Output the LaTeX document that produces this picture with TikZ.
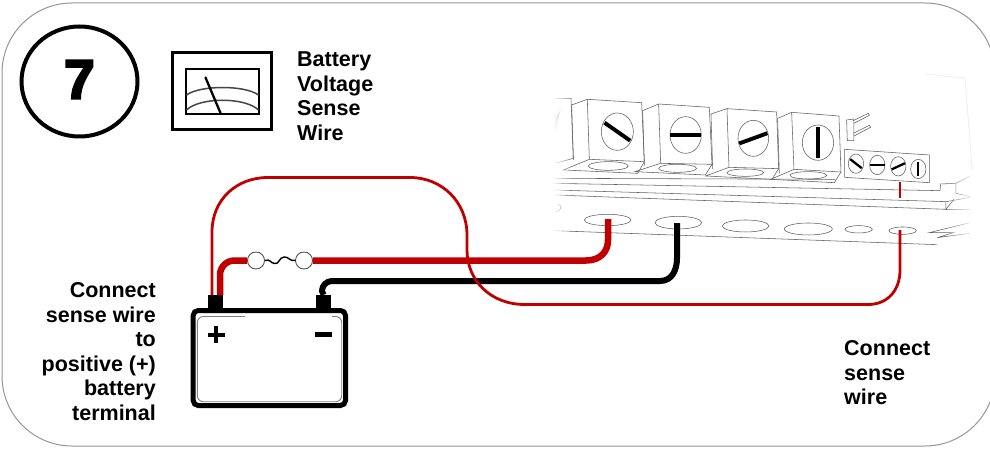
\documentclass[tikz,border=0pt]{standalone}
\usepackage{fontspec}
\setmainfont{Liberation Sans}
\newfontfamily\heavy[BoldFeatures={FakeBold=4}]{Liberation Sans}
\usetikzlibrary{calc,fadings,shapes.geometric}
\definecolor{wirered}{RGB}{192,0,0}
\definecolor{frame}{RGB}{150,150,150}
\definecolor{bline}{RGB}{70,70,70}
\definecolor{sk}{RGB}{95,95,95}
\tikzset{
  lbl/.style={font=\fontsize{21.5}{24.5}\selectfont\bfseries,inner sep=0pt},
  thinred/.style={draw=wirered,line width=2.8pt},
  thickred/.style={draw=wirered,line width=6.5pt},
  thickblack/.style={draw=black,line width=6pt},
  posts/.style={fill=black,draw=none,minimum width=15pt,minimum height=14pt,inner sep=0pt},
  fusecap/.style={circle,draw=bline,fill=white,line width=.8pt,minimum size=17pt,inner sep=0pt},
  sketch/.style={draw=sk,line width=.55pt}
}
\begin{document}
\begin{tikzpicture}[x=1pt,y=-1pt]
\useasboundingbox (0,0) rectangle (990,449);
\fill[white] (0,0) rectangle (990,449);
% frame
\draw[frame,line width=1pt,rounded corners=70pt] (2,3) rectangle (995,446);
% faint edge of the pasted board picture
\draw[black!7,line width=.8pt] (925,74) -- (965,78) -- (973,180);

% terminal strip sketch (coordinates in 3x zoom units)
\begin{scope}[shift={(500,70)},x=0.3333pt,y=-0.3333pt]
  % left partial block
  \draw[sketch] (165,85) -- (213,85) -- (220,265) -- (165,280);
  \fill[gray!55] (165,135) arc[start angle=90,end angle=20,x radius=20,y radius=40] -- (165,190) -- cycle;
  \foreach \ax/\ay/\bx/\by/\cx/\cy/\dx/\dy/\sx/\sy/\tx/\ty/\ex/\ey/\ang/\rxx/\ryy/\ox/\oy/\orx/\ory in {
    262/88/425/98/433/275/268/268/215/105/190/300/352/185/-35/48/56/325/288/60/13,
    476/102/628/112/636/283/482/280/428/122/405/305/557/195/0/47/55/533/295/57/12,
    681/116/830/126/836/296/687/292/633/132/617/318/760/205/20/46/54/736/308/55/11,
    875/127/1017/138/1023/306/882/298/833/145/812/328/954/218/90/47/53/925/316/55/11}{
    \draw[sketch,fill=white] (\ax,\ay) -- (\bx,\by) -- (\cx,\cy) -- (\dx,\dy) -- cycle;
    \draw[sketch] (\ax,\ay) -- (\sx,\sy) -- (\sx+5,\sy+165);
    \draw[sketch] (\dx,\dy) -- (\tx,\ty) -- (\cx-20,\ty+10) -- (\cx,\cy);
    \draw[sketch] (\ox,\oy) ellipse[x radius=\orx,y radius=\ory];
    \draw[sketch,fill=white] (\ex,\ey) ellipse[x radius=\rxx,y radius=\ryy];
    \draw[line width=3.9pt] ($(\ex,\ey)+({\ang*-1}:{\rxx-1})$) -- ($(\ex,\ey)+({180-\ang}:{\rxx-1})$);
  }
  % jumper
  \draw[sketch] (1040,150) -- (1062,147) -- (1062,212) -- (1042,212) -- cycle;
  \draw[sketch] (1060,152) -- (1105,130) -- (1108,136) -- (1062,160);
  \draw[sketch] (1060,190) -- (1108,166) -- (1112,172) -- (1062,198);
  % small terminal block
  \draw[sketch,fill=white] (1034,238) -- (1288,255) -- (1288,338) -- (1034,322) -- cycle;
  \foreach \ex/\ey/\ang in {1068/281/-38,1132/285/0,1195/289/25,1255/297/90}{
    \draw[sketch,fill=white] (\ex,\ey) ellipse[x radius=23,y radius=29];
    \draw[line width=2.3pt] ($(\ex,\ey)+({\ang*-1}:22)$) -- ($(\ex,\ey)+({180-\ang}:22)$);
  }
  % rails
  \draw[sketch] (160,325) -- (1005,328);
  \draw[sketch] (160,340) -- (1320,362) -- (1322,342) -- (1368,340) -- (1368,370) -- (1410,380);
  \draw[sketch] (160,360) -- (1340,395) -- (1410,382);
  \draw[sketch] (160,375) -- (1338,418) -- (1410,418);
  \draw[sketch] (1338,395) -- (1338,418) -- (1362,388);
  \draw[sketch] (1368,340) -- (1410,318);
  % lower panel holes
  \draw[sketch] (160,482) -- (1310,524);
  \draw[sketch] (165,425) arc[start angle=90,end angle=-60,x radius=18,y radius=12];
  \foreach \ex/\ey/\rxx/\ryy in {323/450/70/17,535/458/70/19,737/468/70/18,925/477/72/18,1076/478/41/11,1208/482/41/11}{
    \draw[sketch] (\ex,\ey) ellipse[x radius=\rxx,y radius=\ryy];
  }
  \draw[sketch] (1410,458) -- (1288,488) -- (1360,488) -- (1312,503) -- (1410,490);
\end{scope}
% soft edges of the pasted picture
\fill[white,path fading=east] (552,90) rectangle (572,250);
\fill[white,path fading=west] (945,170) rectangle (975,250);

% sense wire stub on the terminal strip
\coordinate (stubtop) at (900,182);
\coordinate (stubend) at (900,198);
\draw[thinred] (stubtop) -- (stubend);

% battery
\node[posts] (posterm) at (215.5,302) {};
\node[posts] (negterm) at (323.5,302) {};
\draw[black,line width=5pt,rounded corners=5pt,fill=white] (193.2,310.5) rectangle (345.5,405.5);
\draw[gray,line width=.9pt,rounded corners=6pt] (197.3,316.5) rectangle (341.7,401.7);
\draw[white,line width=1.4pt] (245,316.5) -- (332,316.5);
\fill (214,326) rectangle (218,343);
\fill (207.5,332.5) rectangle (224.5,336.5);
\fill (315,332) rectangle (332,337);

% fuse
\node[fusecap] (fuseL) at (256,260.5) {};
\node[fusecap] (fuseR) at (304,260.5) {};
\draw[black,line width=1.4pt] (fuseL.east) .. controls (271,258.5) and (270,263.5) .. (275,263.5) .. controls (279,264.5) and (279,257.5) .. (284,257) .. controls (289,256.5) and (289,261.5) .. (295.5,260.5) -- (fuseR.west);

% wires
\coordinate (posin) at (220,295);
\coordinate (possense) at (212,295);
\coordinate (neghole) at (677,223);
\coordinate (poshole) at (608,219);
\coordinate (sensehole) at (900,230);
\draw[thickred] (posin) -- (220,275) arc[start angle=180,end angle=270,radius=14.5] -- (fuseL.west);
\draw[thickred] (fuseR.east) -- (586,260.5) .. controls (600,260.5) and (608,252) .. (608,240) -- (poshole);
\draw[thickblack] (negterm.north) -- (322,291) arc[start angle=180,end angle=270,radius=10] -- (660,281) .. controls (672,281) and (677,270) .. (677,258) -- (neghole);
\draw[thinred] (possense) -- (212,232) .. controls (212,200) and (236,177.5) .. (268,177.5) -- (410,177.5) .. controls (442,177.5) and (467,202) .. (467,235) -- (467,250) .. controls (467,280) and (490,304.5) .. (525,304.5) -- (868,304.5) .. controls (888,304.5) and (900,290) .. (900,270) -- (sensehole);

% heading
\node[ellipse,draw=black,line width=4pt,minimum width=116pt,minimum height=110pt,inner sep=0pt] (num) at (79.5,81.5) {};
\node[font=\fontsize{55}{55}\heavy\bfseries,inner sep=0pt] (seven) at (79.5,79.5) {7};
\node (meter) [draw=black,line width=3pt,minimum width=99pt,minimum height=77pt,inner sep=0pt] at (222,91.5) {};
\node (dial) [draw=black,line width=2.2pt,minimum width=73pt,minimum height=45pt,inner sep=0pt] at (222.5,91.5) {};
\draw[bline,line width=1.5pt] (186.5,95) .. controls (200,85) and (245,85) .. (258.5,95);
\draw[bline,line width=1.5pt] (186.5,110) .. controls (200,97) and (245,97) .. (258.5,110);
\draw[black,line width=2.3pt,line cap=round] (205.5,77.5) -- (220.5,113);
\node[lbl,align=left,anchor=north west] (title) at (297,51.8) {Battery\\Voltage\\Sense\\Wire};

% labels
\node[lbl,align=right,anchor=north east] (left) at (156,282.5) {Connect\\sense wire\\to\\positive (+)\\battery\\terminal};
\node[lbl,align=left,anchor=north west] (right) at (844,340.5) {Connect\\sense\\wire};
\end{tikzpicture}
\end{document}
